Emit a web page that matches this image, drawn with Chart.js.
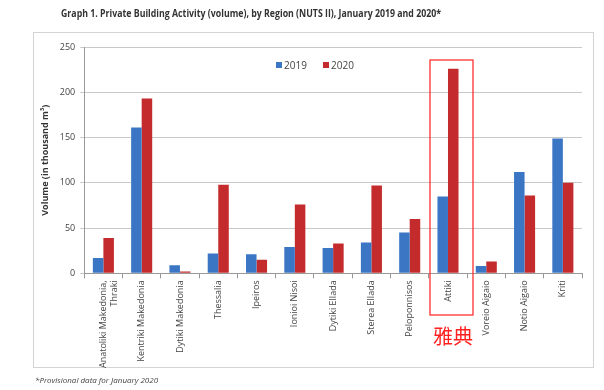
<!DOCTYPE html>
<html>
<head>
<meta charset="utf-8">
<script src="https://cdn.jsdelivr.net/npm/chart.js@4"></script>
<style>
  html, body { margin: 0; padding: 0; background: #fff; }
  #wrap { width: 604px; height: 390px; }
</style>
</head>
<body>
<div id="wrap"><canvas id="chart" width="604" height="390"></canvas></div>
<script>
const regions = [
  ['Anatoliki Makedonia,', 'Thraki'], 'Kentriki Makedonia', 'Dytiki Makedonia', 'Thessalia',
  'Ipeiros', 'Ionioi Nisoi', 'Dytiki Ellada', 'Sterea Ellada', 'Peloponnisos',
  'Attiki', 'Voreio Aigaio', 'Notio Aigaio', 'Kriti'
];
const vol2019 = [17, 161, 9, 22, 21, 29, 28, 34, 45, 85, 8, 112, 149];
const vol2020 = [39, 193, 2, 98, 15, 76, 33, 97, 60, 226, 13, 86, 100];
const yTicks = [0, 50, 100, 150, 200, 250];

const blue = '#3b76c4';
const red = '#c42b2d';

const decor = {
  id: 'decor',
  beforeDraw(chart) {
    const ctx = chart.ctx;
    ctx.save();
    ctx.fillStyle = '#fff';
    ctx.fillRect(0, 0, chart.width, chart.height);
    ctx.strokeStyle = '#d4d4d4';
    ctx.lineWidth = 1;
    ctx.strokeRect(33.5, 32.5, 560, 335);
    ctx.fillStyle = '#333';
    ctx.font = 'bold 10px "Open Sans", sans-serif';
    ctx.textBaseline = 'middle';
    ctx.fillText('Graph 1. Private Building Activity (volume), by Region (NUTS II), January 2019 and 2020*', 61, 14, 380);
    ctx.font = 'italic 8px "Open Sans", sans-serif';
    ctx.fillStyle = '#444';
    ctx.fillText('*Provisional data for January 2020', 35, 381, 140);
    ctx.restore();
  },
  afterDraw(chart) {
    const ctx = chart.ctx;
    const x = chart.scales.x;
    ctx.save();
    // legend
    ctx.font = '10px "Open Sans", sans-serif';
    ctx.textBaseline = 'middle';
    let lx = 276;
    chart.data.datasets.forEach(ds => {
      ctx.fillStyle = ds.backgroundColor;
      ctx.fillRect(lx, 62, 6, 6);
      ctx.fillStyle = '#444';
      ctx.fillText(ds.label, lx + 8, 66);
      lx += 47;
    });
    // annotation
    const cx = x.getPixelForValue(regions.indexOf('Attiki'));
    ctx.strokeStyle = '#ff2020';
    ctx.lineWidth = 1.2;
    ctx.strokeRect(cx - 18, 60, 43, 255);
    ctx.fillStyle = '#ff2020';
    ctx.font = '20px "Noto Sans CJK SC"';
    ctx.textAlign = 'center';
    ctx.fillText('雅典', cx + 5, 336);
    ctx.restore();
  }
};

new Chart(document.getElementById('chart').getContext('2d'), {
  type: 'bar',
  data: {
    labels: regions,
    datasets: [
      { label: '2019', data: vol2019, backgroundColor: blue },
      { label: '2020', data: vol2020, backgroundColor: red }
    ]
  },
  options: {
    responsive: false,
    animation: false,
    layout: { padding: { left: 36, right: 22, top: 47, bottom: 20 } },
    datasets: { bar: { barPercentage: 1, categoryPercentage: 0.55 } },
    scales: {
      x: {
        grid: { display: true, drawOnChartArea: false, color: '#999', tickLength: 5 },
        border: { color: '#999' },
        ticks: {
          minRotation: 90, maxRotation: 90, autoSkip: false,
          color: '#444', font: { size: 9, family: '"Open Sans", sans-serif' }, padding: 2
        }
      },
      y: {
        min: 0, max: 250,
        afterBuildTicks: s => { s.ticks = yTicks.map(v => ({ value: v })); },
        grid: { color: '#c8c8c8', tickLength: 4 },
        border: { color: '#999' },
        ticks: { color: '#444', font: { size: 9, family: '"Open Sans", sans-serif' }, padding: 5 },
        title: {
          display: true, text: 'Volume (in thousand m³)', color: '#333',
          font: { size: 9, weight: 'bold', family: '"Open Sans", sans-serif' }, padding: 4
        }
      }
    },
    plugins: { legend: { display: false }, tooltip: { enabled: false } }
  },
  plugins: [decor]
});
</script>
</body>
</html>
